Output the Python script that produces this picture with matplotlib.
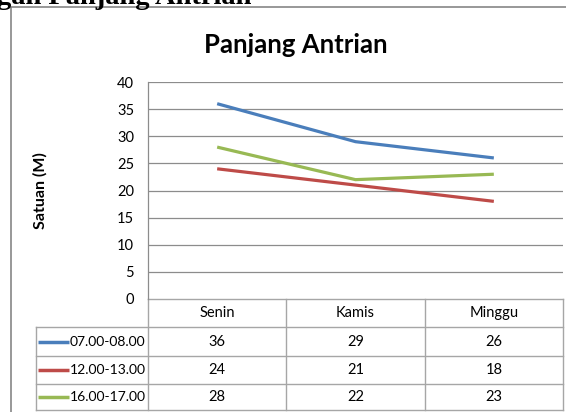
import matplotlib
matplotlib.use('Agg')
import matplotlib.pyplot as plt
from matplotlib.patches import Rectangle

# data
days = ['Senin', 'Kamis', 'Minggu']
series_names = ['07.00-08.00', '12.00-13.00', '16.00-17.00']
pagi = [36, 29, 26]
siang = [24, 21, 18]
sore = [28, 22, 23]
series_values = [pagi, siang, sore]
colors = ['#4A7EBB', '#BE4B48', '#98B954']
yticks = [0, 5, 10, 15, 20, 25, 30, 35, 40]

W, H = 566, 412
FONT = 'Lato'
GRID = '#8c8c8c'
TABLE_LINE = '#a6a6a6'

fig = plt.figure(figsize=(W / 100, H / 100), dpi=100)

# overlay axes in pixel coordinates (for frame, table and caption)
ov = fig.add_axes([0, 0, 1, 1])
ov.set_xlim(0, W)
ov.set_ylim(H, 0)
ov.axis('off')

# plot area: x 148..563, y 82..299 px
px_l, px_r, py_t, py_b = 148, 563, 82, 299
ax = fig.add_axes([px_l / W, 1 - py_b / H, (px_r - px_l) / W, (py_b - py_t) / H])
ax.set_xlim(-0.5, len(days) - 0.5)
ax.set_ylim(0, 40)
ax.set_yticks(yticks)
ax.set_yticklabels([str(v) for v in yticks], fontsize=10.5, family=FONT)
ax.set_xticks([])
ax.tick_params(axis='y', length=0, pad=10)
for s in ['top', 'right', 'bottom']:
    ax.spines[s].set_visible(False)
ax.spines['left'].set_color(GRID)
ax.spines['left'].set_linewidth(0.9)
for v in yticks[1:]:
    ax.axhline(v, color=GRID, lw=0.9, zorder=1)
ax.set_facecolor('none')

x = list(range(len(days)))
for vals, c in zip(series_values, colors):
    ax.plot(x, vals, color=c, lw=2.3, solid_capstyle='butt', zorder=3)

# chart title and y label
fig.text(296 / W, 1 - 45 / H, 'Panjang Antrian', ha='center', va='center',
         fontsize=18.5, fontweight='bold', family=FONT)
fig.text(40 / W, 1 - 191 / H, 'Satuan (M)', ha='center', va='center',
         rotation=90, fontsize=11.5, fontweight='bold', family=FONT)

# cropped caption at the very top
ov.text(-3, 4, 'gan Panjang Antrian', ha='left', va='baseline',
        fontsize=20.5, fontweight='bold', family='Liberation Serif', clip_on=False)

# outer chart frame
ov.add_patch(Rectangle((11, 7), 600, 450, fill=False, edgecolor='#868686', lw=1.2))

# data table
col_w = (px_r - px_l) / len(days)
row_top = [299, 327, 356, 384]
row_bot = 410
tab_l = 36

ov.plot([px_l, px_r], [row_top[0], row_top[0]], color=TABLE_LINE, lw=1)
for i in range(len(days) + 1):
    xx = px_l + i * col_w
    ov.plot([xx, xx], [row_top[0], row_bot], color=TABLE_LINE, lw=1)
ov.plot([tab_l, tab_l], [row_top[1], row_bot], color=TABLE_LINE, lw=1)
for yy in row_top[1:] + [row_bot]:
    ov.plot([tab_l, px_r], [yy, yy], color=TABLE_LINE, lw=1)

for i, d in enumerate(days):
    cx = px_l + (i + 0.5) * col_w
    ov.text(cx, (row_top[0] + row_top[1]) / 2, d, ha='center', va='center',
            fontsize=10.5, family=FONT)

for r, (name, vals, c) in enumerate(zip(series_names, series_values, colors)):
    y0 = row_top[r + 1]
    y1 = row_top[r + 2] if r + 2 < len(row_top) else row_bot
    cy = (y0 + y1) / 2
    ov.plot([38, 69], [cy, cy], color=c, lw=2.5, solid_capstyle='butt')
    ov.text(70, cy, name, ha='left', va='center', fontsize=10, family=FONT)
    for i, v in enumerate(vals):
        cx = px_l + (i + 0.5) * col_w
        ov.text(cx, cy, str(v), ha='center', va='center', fontsize=10.5, family=FONT)

fig.savefig('out.png', dpi=100)
